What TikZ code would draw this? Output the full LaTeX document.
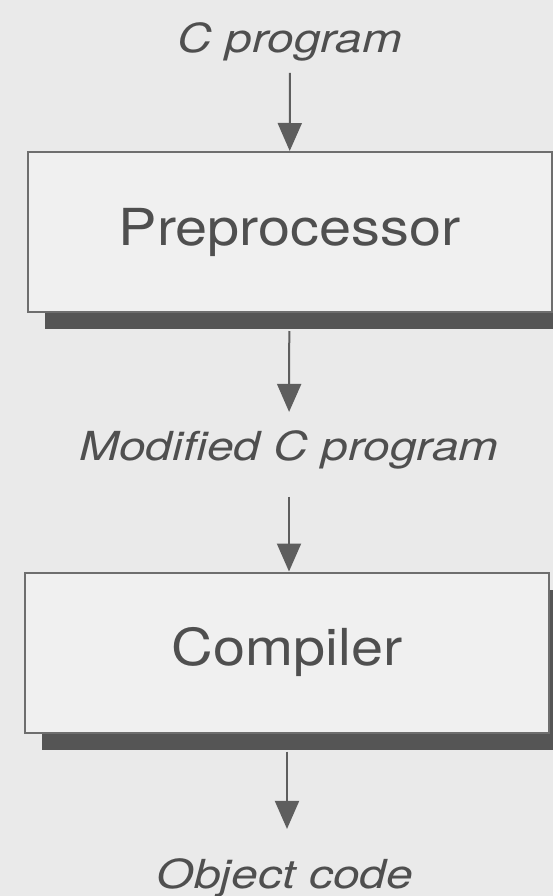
\documentclass[tikz,border=0pt]{standalone}
\usepackage{fontspec}
\setmainfont{TeX Gyre Heros}
\newfontfamily\stagefont[FakeStretch=1.13]{TeX Gyre Heros}
\newfontfamily\tagfont[FakeStretch=1.2]{TeX Gyre Heros}
\usepackage{xcolor}
\definecolor{pageGrey}{HTML}{EAEAEA}
\definecolor{boxFill}{HTML}{F0F0F0}
\definecolor{boxLine}{HTML}{6E6E6E}
\definecolor{shadowGrey}{HTML}{555555}
\definecolor{inkGrey}{HTML}{4F4F4F}
\definecolor{arrowGrey}{HTML}{5E5E5E}
\usepackage{tikz}
\usetikzlibrary{arrows.meta,positioning,shadows}

\begin{document}
\begin{tikzpicture}[
			x=1pt, y=1pt,
			stage/.style={rectangle, draw=boxLine, line width=2pt, fill=boxFill,
				text=inkGrey, minimum width=524pt, minimum height=160pt,
				font=\stagefont\fontsize{51}{60}\selectfont,
				drop shadow={shadow xshift=17pt, shadow yshift=-17pt, fill=shadowGrey, opacity=1}},
			tag/.style={inner sep=11pt, text=inkGrey, font=\tagfont\itshape\fontsize{40}{48}\selectfont},
			flow/.style={-{Triangle[length=28pt, width=24pt]}, line width=2pt, draw=arrowGrey}
			]
			\path[fill=pageGrey, use as bounding box] (0,0) rectangle (553,-896);
			\clip (0,0) rectangle (553,-896);
			\node[tag, anchor=base] (cprog) at (290,-53) {C program};
			\node[stage] (pre) at (289.5,-232) {Preprocessor};
			\node[tag, anchor=base] (modc) at (289,-460) {Modified C program};
			\node[stage] (comp) at (287,-652.5) {Compiler};
			\node[tag, anchor=base] (obj) at (285,-888) {Object code};
			\draw[flow] (cprog) -- (pre);
			\draw[flow, shorten <=18pt, shorten >=7pt] (pre) -- (modc);
			\draw[flow, shorten <=17pt] (modc) -- (modc |- comp.north);
			\draw[flow, shorten <=18pt, shorten >=18pt] (comp) -- (comp |- obj.north);
		\end{tikzpicture}
\end{document}
